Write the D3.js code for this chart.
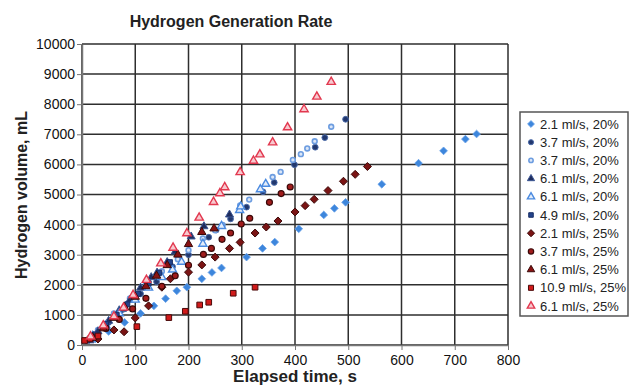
<!DOCTYPE html>
<html>
<head>
<meta charset="utf-8">
<script src="https://cdn.jsdelivr.net/npm/d3@7"></script>
<style>
  body { margin: 0; background: #fff; }
  text { font-family: "Liberation Sans", Arial, sans-serif; }
</style>
</head>
<body>
<div id="chart"></div>
<script>
const width = 631
const height = 386

// datos: [tiempo s, volumen mL]
const s21_20 = [[25,200],[50,450],[80,750],[110,1050],[135,1300],[157,1540],[178,1800],[197,1920],[225,2200],[244,2410],[262,2560],[309,2920],[339,3210],[362,3420],[407,3860],[454,4320],[474,4540],[495,4740],[563,5340],[632,6040],[679,6450],[720,6840],[741,7010]]
const s37_20a = [[25,300],[50,750],[80,1200],[110,1700],[140,2100],[170,2600],[200,3000],[238,3580],[252,3820],[279,4190],[309,4580],[340,5090],[361,5400],[399,5990],[438,6570],[456,6890],[495,7500]]
const s37_20b = [[30,500],[60,1050],[90,1550],[120,2000],[150,2450],[180,2850],[200,3150],[227,3540],[250,3810],[264,3990],[297,4640],[314,4830],[358,5580],[373,5750],[396,6150],[411,6340],[423,6530],[437,6770],[468,7250]]
const s61_20a = [[15,150],[30,450],[50,800],[70,1150],[90,1500],[110,1900],[130,2250],[141,2400],[160,2750],[175,3100],[205,3600],[229,3940],[277,4330]]
const s61_20b = [[20,300],[45,650],[70,1050],[100,1500],[125,1900],[150,2250],[170,2500],[187,2760],[227,3360],[262,3950],[296,4480],[298,4600],[335,5170],[345,5350]]
const s49_20 = [[10,150],[25,350],[45,700],[65,1000],[85,1350],[105,1700],[125,2050],[145,2400],[165,2750]]
const s21_25 = [[30,200],[60,500],[79,440],[100,900],[125,1300],[150,1920],[166,2200],[200,2420],[225,2660],[250,2920],[277,3210],[297,3410],[325,3720],[346,3920],[368,4120],[400,4420],[419,4630],[436,4840],[462,5130],[491,5440],[513,5670],[536,5930]]
const s37_25 = [[20,250],[45,550],[70,850],[95,1200],[120,1550],[150,1950],[175,2300],[200,2650],[228,3010],[243,3210],[263,3510],[279,3720],[299,4020],[315,4210],[352,4740],[374,5030],[391,5250]]
const s61_25a = [[20,250],[40,550],[60,900],[80,1250],[100,1600],[120,1950],[140,2300],[160,2650],[180,3000],[200,3350],[225,3750],[248,3870]]
const s109_25 = [[5,150],[15,200],[30,300],[103,610],[163,910],[194,1120],[221,1330],[238,1420],[284,1720],[325,1920]]
const s61_25b = [[16,280],[40,650],[60,950],[78,1240],[96,1660],[121,2160],[148,2710],[171,3230],[197,3710],[220,4230],[247,4750],[259,5040],[268,5240],[297,5740],[322,6120],[334,6330],[358,6730],[386,7230],[417,7830],[441,8250],[468,8740]]

const seriesNames = ["2.1 ml/s, 20%","3.7 ml/s, 20%","3.7 ml/s, 20%","6.1 ml/s, 20%","6.1 ml/s, 20%","4.9 ml/s, 20%","2.1 ml/s, 25%","3.7 ml/s, 25%","6.1 ml/s, 25%","10.9 ml/s, 25%","6.1 ml/s, 25%"]
const seriesData = [s21_20, s37_20a, s37_20b, s61_20a, s61_20b, s49_20, s21_25, s37_25, s61_25a, s109_25, s61_25b]

const xTicks = [0,100,200,300,400,500,600,700,800]
const yTicks = [0,1000,2000,3000,4000,5000,6000,7000,8000,9000,10000]

// rombo tipo Excel: cuadrado girado
const rombo = { draw(ctx, size) { const r = Math.sqrt(size / 2); ctx.moveTo(0,-r); ctx.lineTo(r,0); ctx.lineTo(0,r); ctx.lineTo(-r,0); ctx.closePath() } }

const styles = [
    { sym: rombo,             size: 30, fill: "#3d86dc", stroke: "#6aa2e8", sw: 0.8 },
    { sym: d3.symbolCircle,   size: 26, fill: "#22386e", stroke: "#4a6aa8", sw: 1 },
    { sym: d3.symbolCircle,   size: 18, fill: "#dbe6f7", stroke: "#6d9de0", sw: 1.6 },
    { sym: d3.symbolTriangle, size: 28, fill: "#1f2d5e", stroke: "#3b5694", sw: 1 },
    { sym: d3.symbolTriangle, size: 28, fill: "#e3ecfa", stroke: "#4a8ae0", sw: 1.4 },
    { sym: d3.symbolSquare,   size: 26, fill: "#23438c", stroke: "#1a2f66", sw: 1 },
    { sym: rombo,             size: 32, fill: "#7a1414", stroke: "#3d0a0a", sw: 1 },
    { sym: d3.symbolCircle,   size: 28, fill: "#a01c1c", stroke: "#3a0808", sw: 1.2 },
    { sym: d3.symbolTriangle, size: 30, fill: "#8a1212", stroke: "#3a0808", sw: 1 },
    { sym: d3.symbolSquare,   size: 32, fill: "#d01a1a", stroke: "#4a0a0a", sw: 1 },
    { sym: d3.symbolTriangle, size: 30, fill: "#f7c9cf", stroke: "#e2384f", sw: 1.4 }
]

const svg = d3.select("#chart").append("svg").attr("width", width).attr("height", height)

const x = d3.scaleLinear().domain([0, 800]).range([82, 508])
const y = d3.scaleLinear().domain([0, 10000]).range([345, 44])

// rejilla
const grid = svg.append("g")
grid.selectAll(".vg").data(xTicks).enter().append("line")
    .attr("x1", d => x(d)).attr("x2", d => x(d))
    .attr("y1", y(0)).attr("y2", y(10000))
    .attr("stroke", "#2e2e2e").attr("stroke-width", 1.5)
grid.selectAll(".hg").data(yTicks).enter().append("line")
    .attr("x1", x(0)).attr("x2", x(800))
    .attr("y1", d => y(d)).attr("y2", d => y(d))
    .attr("stroke", "#2e2e2e").attr("stroke-width", 1.5)

// ejes
const xAxis = d3.axisBottom(x).tickValues(xTicks).tickFormat(d3.format("d")).tickSize(5).tickSizeOuter(0)
const yAxis = d3.axisLeft(y).tickValues(yTicks).tickFormat(d3.format("d")).tickSize(5).tickSizeOuter(0)
const xg = svg.append("g").attr("transform", `translate(0,${y(0)})`).call(xAxis)
const yg = svg.append("g").attr("transform", `translate(${x(0)},0)`).call(yAxis)
;[xg, yg].forEach(g => {
    g.select(".domain").attr("stroke", "#777").attr("stroke-width", 1.5)
    g.selectAll(".tick line").attr("stroke", "#777")
    g.selectAll("text").attr("font-size", 14).attr("fill", "#111")
        .style("font-family", "'Liberation Sans', Arial, sans-serif")
})
xg.selectAll("text").attr("dy", "0.85em")
yg.selectAll("text").attr("x", -7)

// puntos
seriesData.forEach((data, i) => {
    const st = styles[i]
    svg.append("g").selectAll("path").data(data).enter().append("path")
        .attr("d", d3.symbol().type(st.sym).size(st.size))
        .attr("transform", d => `translate(${x(d[0])},${y(d[1])})`)
        .attr("fill", st.fill).attr("stroke", st.stroke).attr("stroke-width", st.sw)
})

// titulos
svg.append("text").attr("x", 231).attr("y", 27).attr("text-anchor", "middle")
    .attr("font-size", 16).attr("font-weight", "bold").attr("fill", "#222")
    .text("Hydrogen Generation Rate")
svg.append("text").attr("x", 295).attr("y", 382).attr("text-anchor", "middle")
    .attr("font-size", 17).attr("font-weight", "bold").attr("fill", "#222")
    .text("Elapsed time, s")
svg.append("text").attr("transform", "translate(27,195) rotate(-90)").attr("text-anchor", "middle")
    .attr("font-size", 16).attr("font-weight", "bold").attr("fill", "#222")
    .text("Hydrogen volume, mL")

// leyenda
const legend = svg.append("g")
legend.append("rect").attr("x", 520).attr("y", 112).attr("width", 108).attr("height", 204)
    .attr("fill", "#fff").attr("stroke", "#555").attr("stroke-width", 1.5)
const rows = legend.selectAll(".row").data(seriesNames).enter().append("g")
    .attr("transform", (d, i) => `translate(531,${124 + i * 18.2})`)
rows.append("path")
    .attr("d", (d, i) => d3.symbol().type(styles[i].sym).size(styles[i].size * 0.8)())
    .attr("fill", (d, i) => styles[i].fill).attr("stroke", (d, i) => styles[i].stroke)
    .attr("stroke-width", (d, i) => styles[i].sw)
rows.append("text").attr("x", 9).attr("dy", "0.35em").attr("font-size", 13).attr("fill", "#222")
    .text(d => d)
</script>
</body>
</html>
